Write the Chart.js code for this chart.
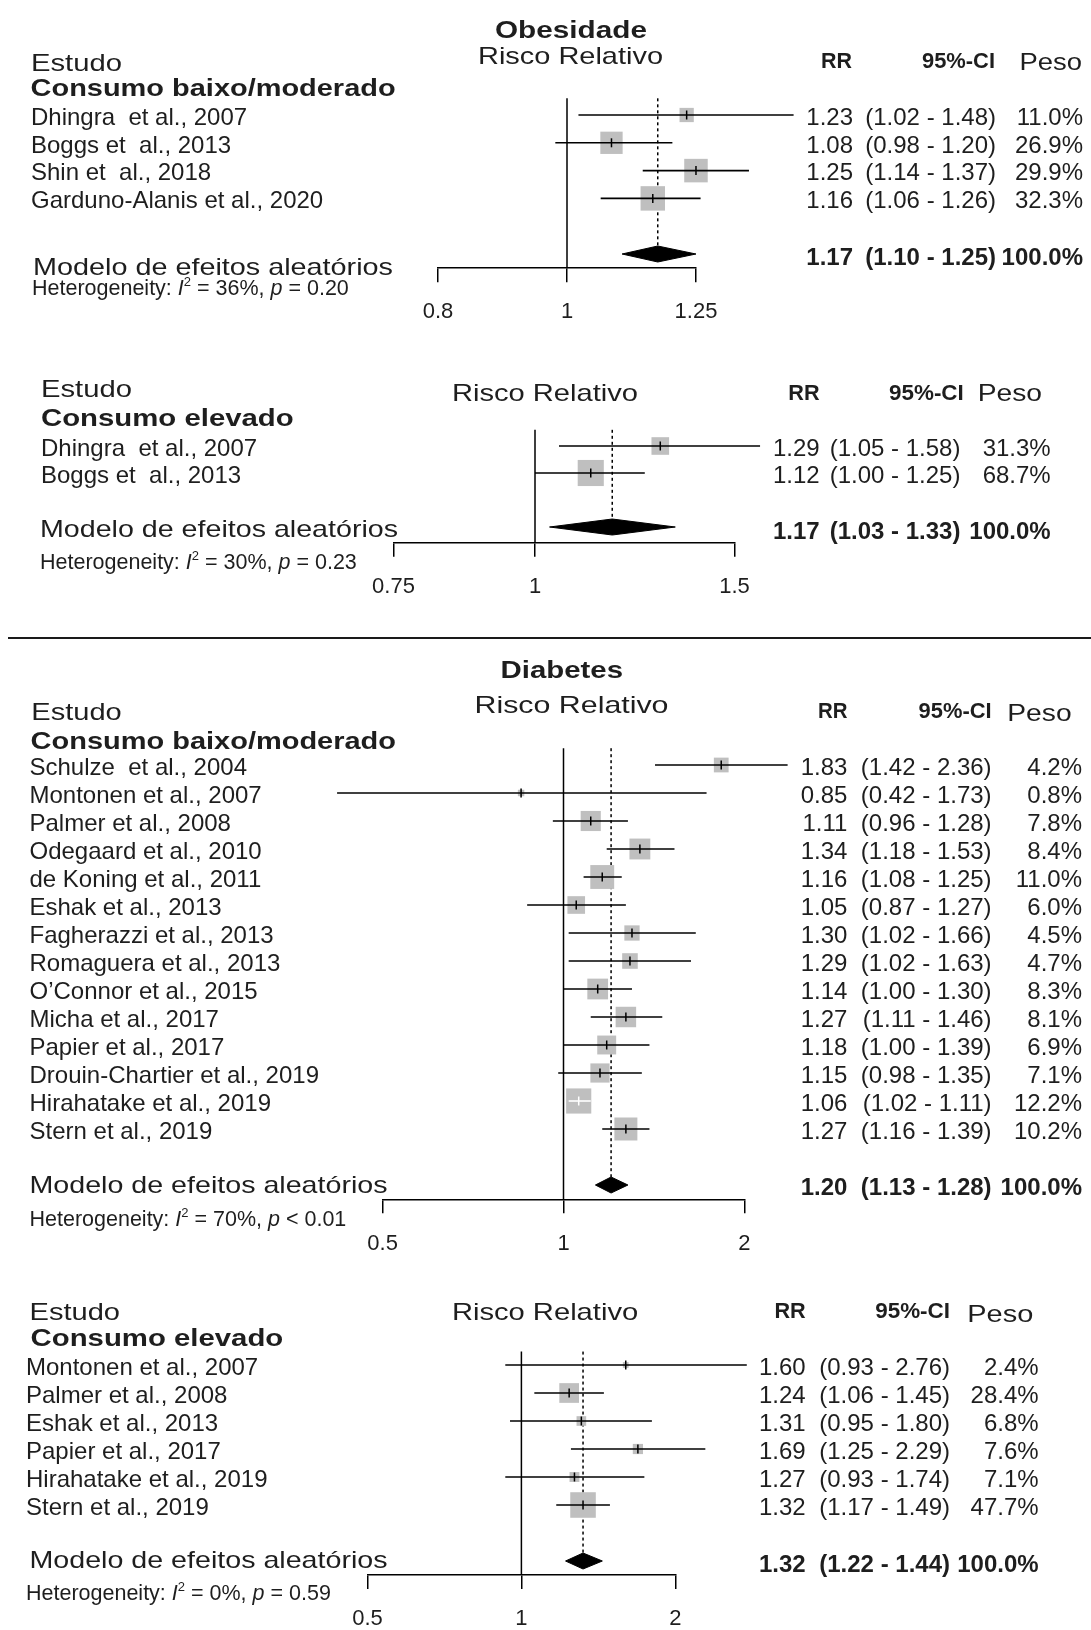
<!DOCTYPE html>
<html>
<head>
<meta charset="utf-8">
<script src="https://cdn.jsdelivr.net/npm/chart.js@4.4.1/dist/chart.umd.min.js"></script>
<style>
  html, body { margin: 0; padding: 0; background: #ffffff; }
  #page { position: relative; width: 1091px; height: 1630px; overflow: hidden; background: #ffffff; }
  #page canvas { position: absolute; left: 0; }
  #txt { position: absolute; left: 0; top: 0; }
  #sep { position: absolute; left: 8px; top: 637px; width: 1083px; height: 2px; background: #1a1a1a; }
</style>
</head>
<body>
<div id="page">
  <canvas id="c1"></canvas>
  <canvas id="c2"></canvas>
  <canvas id="c3"></canvas>
  <canvas id="c4"></canvas>
  <div id="sep"></div>
  <svg id="txt" width="1091" height="1630" xmlns="http://www.w3.org/2000/svg"></svg>
</div>
<script>
// ---------------- DATA ----------------
// Obesidade - Consumo baixo/moderado
const obBaixoEstudos = ["Dhingra  et al., 2007", "Boggs et  al., 2013", "Shin et  al., 2018", "Garduno-Alanis et al., 2020"];
const obBaixoRR   = [1.23, 1.08, 1.25, 1.16];
const obBaixoInf  = [1.02, 0.98, 1.14, 1.06];
const obBaixoSup  = [1.48, 1.20, 1.37, 1.26];
const obBaixoPeso = [11.0, 26.9, 29.9, 32.3];
const obBaixoTotal = [1.17, 1.10, 1.25];
const obBaixoHet = ["36%", "= 0.20"];
const obBaixoTicks = [0.8, 1, 1.25];
const obBaixoTickLabels = ["0.8", "1", "1.25"];

// Obesidade - Consumo elevado
const obElevEstudos = ["Dhingra  et al., 2007", "Boggs et  al., 2013"];
const obElevRR   = [1.29, 1.12];
const obElevInf  = [1.05, 1.00];
const obElevSup  = [1.58, 1.25];
const obElevPeso = [31.3, 68.7];
const obElevTotal = [1.17, 1.03, 1.33];
const obElevHet = ["30%", "= 0.23"];
const obElevTicks = [0.75, 1, 1.5];
const obElevTickLabels = ["0.75", "1", "1.5"];

// Diabetes - Consumo baixo/moderado
const diBaixoEstudos = ["Schulze  et al., 2004", "Montonen et al., 2007", "Palmer et al., 2008", "Odegaard et al., 2010",
  "de Koning et al., 2011", "Eshak et al., 2013", "Fagherazzi et al., 2013", "Romaguera et al., 2013",
  "O\u2019Connor et al., 2015", "Micha et al., 2017", "Papier et al., 2017", "Drouin-Chartier et al., 2019",
  "Hirahatake et al., 2019", "Stern et al., 2019"];
const diBaixoRR   = [1.83, 0.85, 1.11, 1.34, 1.16, 1.05, 1.30, 1.29, 1.14, 1.27, 1.18, 1.15, 1.06, 1.27];
const diBaixoInf  = [1.42, 0.42, 0.96, 1.18, 1.08, 0.87, 1.02, 1.02, 1.00, 1.11, 1.00, 0.98, 1.02, 1.16];
const diBaixoSup  = [2.36, 1.73, 1.28, 1.53, 1.25, 1.27, 1.66, 1.63, 1.30, 1.46, 1.39, 1.35, 1.11, 1.39];
const diBaixoPeso = [4.2, 0.8, 7.8, 8.4, 11.0, 6.0, 4.5, 4.7, 8.3, 8.1, 6.9, 7.1, 12.2, 10.2];
const diBaixoTotal = [1.20, 1.13, 1.28];
const diBaixoHet = ["70%", "< 0.01"];
const diBaixoTicks = [0.5, 1, 2];
const diBaixoTickLabels = ["0.5", "1", "2"];

// Diabetes - Consumo elevado
const diElevEstudos = ["Montonen et al., 2007", "Palmer et al., 2008", "Eshak et al., 2013", "Papier et al., 2017",
  "Hirahatake et al., 2019", "Stern et al., 2019"];
const diElevRR   = [1.60, 1.24, 1.31, 1.69, 1.27, 1.32];
const diElevInf  = [0.93, 1.06, 0.95, 1.25, 0.93, 1.17];
const diElevSup  = [2.76, 1.45, 1.80, 2.29, 1.74, 1.49];
const diElevPeso = [2.4, 28.4, 6.8, 7.6, 7.1, 47.7];
const diElevTotal = [1.32, 1.22, 1.44];
const diElevHet = ["0%", "= 0.59"];
const diElevTicks = [0.5, 1, 2];
const diElevTickLabels = ["0.5", "1", "2"];

// ---------------- LAYOUT / STYLE ----------------
const FONT = "'Liberation Sans', Arial, Helvetica, sans-serif";
const TXT = "#1e1e1e";

const panels = [
  { id: "c1", top: 0, height: 345,
    estudos: obBaixoEstudos, rr: obBaixoRR, inf: obBaixoInf, sup: obBaixoSup, peso: obBaixoPeso,
    total: obBaixoTotal, het: obBaixoHet, ticks: obBaixoTicks, tickLabels: obBaixoTickLabels,
    x1: 567, k: 578, row0: 115, pitch: 27.8, sumRow: 5, axisRow: 5.51, topRow: -0.6, box: 4.3,
    labelX: 31, rrX: 853, ciX: 996, wX: 1083, modelX: 33, modelW: 360, modelDy: 21, hetX: 32, hetDy: 41, sumDy: 11,
    heads: [
      { t: "Obesidade", x: 495, y: 37.5, s: 24, b: true, w: 152 },
      { t: "Estudo", x: 31, y: 70.5, s: 24, w: 91 },
      { t: "Risco Relativo", x: 478, y: 64, s: 24, w: 185 },
      { t: "RR", x: 821, y: 68, s: 22, b: true, w: 31 },
      { t: "95%-CI", x: 922, y: 68, s: 22, b: true, w: 73 },
      { t: "Peso", x: 1019.5, y: 70, s: 24, w: 62.5 },
      { t: "Consumo baixo/moderado", x: 30.6, y: 95.7, s: 24, b: true, w: 365 }
    ] },
  { id: "c2", top: 350, height: 290,
    estudos: obElevEstudos, rr: obElevRR, inf: obElevInf, sup: obElevSup, peso: obElevPeso,
    total: obElevTotal, het: obElevHet, ticks: obElevTicks, tickLabels: obElevTickLabels,
    x1: 535, k: 492, row0: 446, pitch: 27, sumRow: 3, axisRow: 3.58, topRow: -0.6, box: 3.15,
    labelX: 41, rrX: 819.6, ciX: 960.4, wX: 1050.7, modelX: 40, modelW: 358, modelDy: 10.3, hetX: 40, hetDy: 42.3, sumDy: 12,
    heads: [
      { t: "Estudo", x: 41, y: 397.3, s: 24, w: 91 },
      { t: "Risco Relativo", x: 452, y: 400.7, s: 24, w: 186 },
      { t: "RR", x: 788.3, y: 400, s: 22, b: true, w: 31.3 },
      { t: "95%-CI", x: 889, y: 400, s: 22, b: true, w: 74.8 },
      { t: "Peso", x: 977.7, y: 400.7, s: 24, w: 64.3 },
      { t: "Consumo elevado", x: 41, y: 426, s: 24, b: true, w: 252.7 }
    ] },
  { id: "c3", top: 645, height: 620,
    estudos: diBaixoEstudos, rr: diBaixoRR, inf: diBaixoInf, sup: diBaixoSup, peso: diBaixoPeso,
    total: diBaixoTotal, het: diBaixoHet, ticks: diBaixoTicks, tickLabels: diBaixoTickLabels,
    x1: 563.5, k: 261, row0: 765, pitch: 28, sumRow: 15, axisRow: 15.51, topRow: -0.6, box: 7.2,
    labelX: 29.5, rrX: 847.4, ciX: 991.6, wX: 1082, modelX: 29.5, modelW: 358, modelDy: 8.3, hetX: 29.5, hetDy: 41, sumDy: 10,
    heads: [
      { t: "Diabetes", x: 500.5, y: 678, s: 24, b: true, w: 122.5 },
      { t: "Risco Relativo", x: 474.5, y: 713.3, s: 24, w: 194 },
      { t: "Estudo", x: 31.3, y: 720, s: 24, w: 90.4 },
      { t: "RR", x: 817.9, y: 718.3, s: 22, b: true, w: 29.5 },
      { t: "95%-CI", x: 918.6, y: 718, s: 22, b: true, w: 73 },
      { t: "Peso", x: 1007.3, y: 720.7, s: 24, w: 64.3 },
      { t: "Consumo baixo/moderado", x: 30.6, y: 749.3, s: 24, b: true, w: 365.4 }
    ] },
  { id: "c4", top: 1270, height: 380,
    estudos: diElevEstudos, rr: diElevRR, inf: diElevInf, sup: diElevSup, peso: diElevPeso,
    total: diElevTotal, het: diElevHet, ticks: diElevTicks, tickLabels: diElevTickLabels,
    x1: 521.4, k: 222, row0: 1365, pitch: 28, sumRow: 7, axisRow: 7.5, topRow: -0.48, box: 3.7,
    labelX: 26, rrX: 805.7, ciX: 950, wX: 1038.6, modelX: 29.5, modelW: 358, modelDy: 7.3, hetX: 26, hetDy: 39, sumDy: 10.5,
    heads: [
      { t: "Estudo", x: 29.5, y: 1320, s: 24, w: 90.5 },
      { t: "Risco Relativo", x: 451.9, y: 1320, s: 24, w: 186.3 },
      { t: "RR", x: 774.4, y: 1318.3, s: 22, b: true, w: 31.3 },
      { t: "95%-CI", x: 875.2, y: 1318, s: 22, b: true, w: 74.8 },
      { t: "Peso", x: 967.3, y: 1321.7, s: 24, w: 66 },
      { t: "Consumo elevado", x: 30.6, y: 1346, s: 24, b: true, w: 252.7 }
    ] }
];

// ---------------- TEXT (SVG) ----------------
const NS = "http://www.w3.org/2000/svg";
const svg = document.getElementById("txt");
function addText(o) {
  const el = document.createElementNS(NS, "text");
  el.setAttribute("x", o.x);
  el.setAttribute("y", o.y);
  el.setAttribute("font-family", FONT);
  el.setAttribute("font-size", o.s);
  if (o.b) el.setAttribute("font-weight", "bold");
  el.setAttribute("fill", o.c || TXT);
  if (o.a) el.setAttribute("text-anchor", o.a);
  el.setAttribute("style", "white-space:pre");
  el.setAttributeNS("http://www.w3.org/XML/1998/namespace", "xml:space", "preserve");
  if (o.w) { el.setAttribute("textLength", o.w); el.setAttribute("lengthAdjust", "spacingAndGlyphs"); }
  if (o.parts) {
    for (const part of o.parts) {
      const ts = document.createElementNS(NS, "tspan");
      ts.textContent = part.t;
      if (part.i) ts.setAttribute("font-style", "italic");
      if (part.s) ts.setAttribute("font-size", part.s);
      if (part.dy) ts.setAttribute("dy", part.dy);
      el.appendChild(ts);
    }
  } else {
    el.textContent = o.t;
  }
  svg.appendChild(el);
}

// ---------------- CHARTS ----------------
function buildPanel(p) {
  const cv = document.getElementById(p.id);
  cv.width = 1091; cv.height = p.height;
  cv.style.width = "1091px"; cv.style.height = p.height + "px";
  cv.style.top = p.top + "px";

  const yAbs = r => p.row0 + r * p.pitch;
  const xAbs = v => p.x1 + p.k * Math.log(v);
  const side = i => p.box * Math.sqrt(p.peso[i]);
  const dh = 8 / p.pitch;
  const tMin = p.ticks[0], tMax = p.ticks[p.ticks.length - 1];

  const ciData = [];
  p.rr.forEach((v, i) => {
    ciData.push({ x: p.inf[i], y: i }, { x: p.sup[i], y: i }, { x: NaN, y: NaN });
  });
  const inside = (chart, i) => {
    const xs = chart.scales.x;
    return (xs.getPixelForValue(p.sup[i]) - xs.getPixelForValue(p.inf[i])) < side(i);
  };
  const pts = p.rr.map((v, i) => ({ x: v, y: i }));
  const [tot, totLo, totHi] = p.total;

  const chart = new Chart(cv, {
    type: "scatter",
    data: {
      datasets: [
        { // study boxes
          data: pts, pointStyle: "rect",
          pointRadius: c => side(c.dataIndex) / (2 * Math.SQRT1_2),
          pointBackgroundColor: "#bfbfbf", pointBorderWidth: 0, order: 6, clip: false
        },
        { // confidence intervals
          type: "line", data: ciData, borderColor: "#000", borderWidth: 1.6, pointRadius: 0,
          spanGaps: false, fill: false, order: 5, clip: false,
          segment: { borderColor: c => inside(c.chart, Math.floor(c.p0DataIndex / 3)) ? "#ffffff" : "#000000" }
        },
        { // point estimate marks
          data: pts, pointStyle: "line", pointRotation: 90, pointRadius: 4.5, pointBorderWidth: 1.5,
          pointBorderColor: c => inside(c.chart, c.dataIndex) ? "#ffffff" : "#000000", order: 4, clip: false
        },
        { // no-effect line
          type: "line", data: [{ x: 1, y: p.topRow }, { x: 1, y: p.axisRow }],
          borderColor: "#000", borderWidth: 1.5, pointRadius: 0, order: 7, clip: false
        },
        { // pooled estimate dotted line
          type: "line", data: [{ x: tot, y: p.topRow }, { x: tot, y: p.sumRow - dh }],
          borderColor: "#000", borderWidth: 1.5, borderDash: [3, 3], pointRadius: 0, order: 7, clip: false
        },
        { // diamond upper half
          type: "line", data: [{ x: totLo, y: p.sumRow }, { x: tot, y: p.sumRow - dh }, { x: totHi, y: p.sumRow }],
          borderColor: "#000", borderWidth: 1, backgroundColor: "#000", fill: { value: p.sumRow },
          pointRadius: 0, tension: 0, order: 3, clip: false
        },
        { // diamond lower half
          type: "line", data: [{ x: totLo, y: p.sumRow }, { x: tot, y: p.sumRow + dh }, { x: totHi, y: p.sumRow }],
          borderColor: "#000", borderWidth: 1, backgroundColor: "#000", fill: { value: p.sumRow },
          pointRadius: 0, tension: 0, order: 3, clip: false
        }
      ]
    },
    options: {
      responsive: false, animation: false, devicePixelRatio: 1, events: [],
      layout: { padding: { left: xAbs(tMin), right: 1091 - xAbs(tMax), top: yAbs(p.topRow) - p.top, bottom: 0 } },
      plugins: { legend: { display: false }, tooltip: { enabled: false } },
      scales: {
        x: {
          type: "logarithmic", min: tMin, max: tMax, position: "bottom",
          afterBuildTicks: s => { s.ticks = p.ticks.map(v => ({ value: v })); },
          ticks: {
            autoSkip: false, maxRotation: 0, minRotation: 0, padding: 17, color: TXT,
            font: { family: FONT, size: 22 },
            callback: (v, i) => p.tickLabels[i]
          },
          grid: { drawOnChartArea: false, drawTicks: true, tickLength: 14, color: "#000", lineWidth: 1.5 },
          border: { display: true, color: "#000", width: 1.5 }
        },
        y: { type: "linear", display: false, reverse: true, min: p.topRow, max: p.axisRow }
      }
    }
  });

  const want = yAbs(p.axisRow) - p.top;
  const d = chart.chartArea.bottom - want;
  if (Math.abs(d) > 0.05) {
    chart.options.layout.padding.bottom += d;
    chart.update();
  }

  // texts tied to the chart's y scale
  const ys = chart.scales.y;
  const rowY = r => p.top + ys.getPixelForValue(r);
  p.heads.forEach(h => addText(h));
  p.estudos.forEach((name, i) => {
    const y = rowY(i) + 9.8;
    addText({ t: name, x: p.labelX, y, s: 24 });
    addText({ t: p.rr[i].toFixed(2), x: p.rrX, y, s: 24, a: "end" });
    addText({ t: "(" + p.inf[i].toFixed(2) + " - " + p.sup[i].toFixed(2) + ")", x: p.ciX, y, s: 24, a: "end" });
    addText({ t: p.peso[i].toFixed(1) + "%", x: p.wX, y, s: 24, a: "end" });
  });
  const sy = rowY(p.sumRow);
  addText({ t: "Modelo de efeitos aleat\u00f3rios", x: p.modelX, y: sy + p.modelDy, s: 24, w: p.modelW });
  addText({ x: p.hetX, y: sy + p.hetDy, s: 21.5, parts: [
    { t: "Heterogeneity: " }, { t: "I", i: true }, { t: "2", s: 13, dy: -9 },
    { t: " = " + p.het[0] + ", ", dy: 9 }, { t: "p", i: true }, { t: " " + p.het[1] }
  ] });
  addText({ t: tot.toFixed(2), x: p.rrX, y: sy + p.sumDy, s: 24, b: true, a: "end" });
  addText({ t: "(" + totLo.toFixed(2) + " - " + totHi.toFixed(2) + ")", x: p.ciX, y: sy + p.sumDy, s: 24, b: true, a: "end" });
  addText({ t: "100.0%", x: p.wX, y: sy + p.sumDy, s: 24, b: true, a: "end" });
  return chart;
}

panels.forEach(buildPanel);
</script>
</body>
</html>
